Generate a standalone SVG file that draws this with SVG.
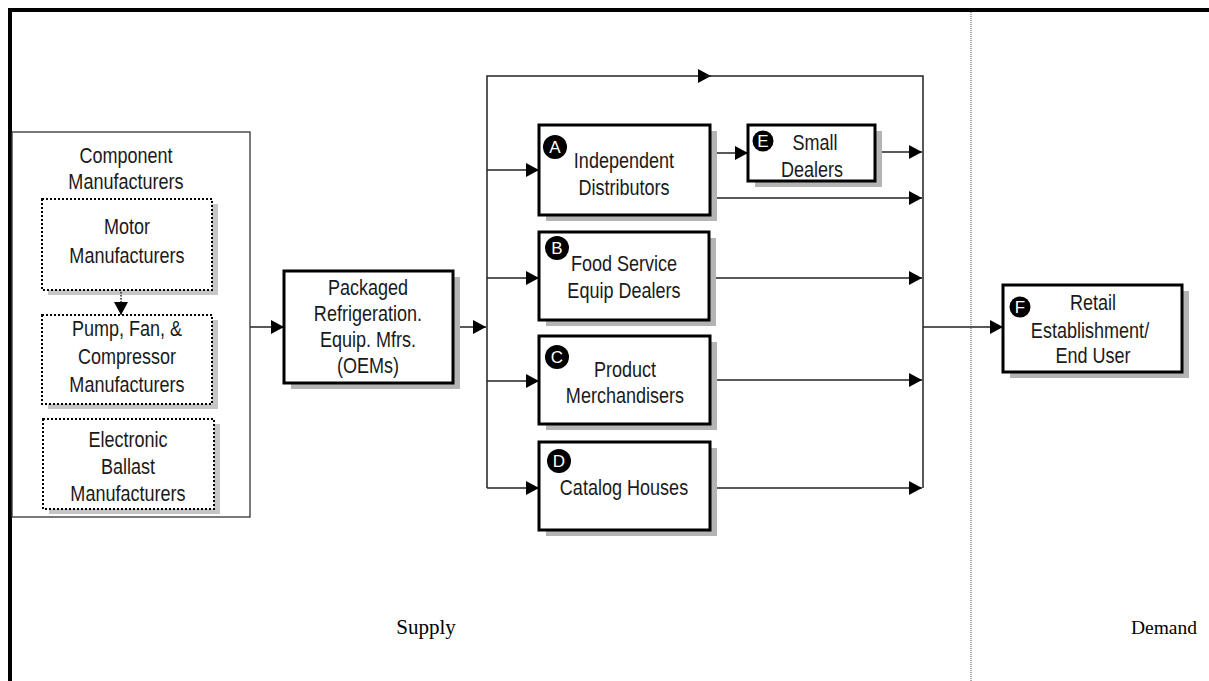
<svg xmlns="http://www.w3.org/2000/svg" width="1209" height="681" viewBox="0 0 1209 681">
  <style>
    .lbl{font-family:"Liberation Sans",Arial,sans-serif;font-size:22px;fill:#1a1a1a;text-anchor:middle}
    .box{fill:#fff;stroke:#000;stroke-width:3}
    .shadow{fill:#b4b4b4}
    .dbox{fill:#fff;stroke:#000;stroke-width:2;stroke-dasharray:2 2}
    .dshadow{fill:#c6c6c6}
    .conn{fill:none;stroke:#222;stroke-width:1.5}
    .dotconn{fill:none;stroke:#222;stroke-width:1.5;stroke-dasharray:1.5 1.5}
    .badge circle{fill:#000}
    .badge text{font-family:"Liberation Sans",Arial,sans-serif;font-size:17px;fill:#fff;text-anchor:middle}
    .zone{font-family:"Liberation Serif","Times New Roman",serif;font-size:21px;fill:#000;text-anchor:middle}
  </style>
  <defs>
    <marker id="ah" viewBox="0 0 13 14" refX="13" refY="7" markerWidth="13" markerHeight="14" markerUnits="userSpaceOnUse" orient="auto">
      <path d="M0,0L13,7L0,14z" fill="#000"/>
    </marker>
  </defs>

  <rect width="1209" height="681" fill="#fff"/>

  <!-- page frame and supply/demand divider -->
  <g id="frame">
    <path d="M10,681V10H1209" fill="none" stroke="#000" stroke-width="4"/>
    <line x1="971" y1="12" x2="971" y2="681" stroke="#555" stroke-width="1" stroke-dasharray="1 1"/>
    <text class="zone" x="426" y="634">Supply</text>
    <text class="zone" x="1164" y="634" style="font-size:19.5px">Demand</text>
  </g>

  <!-- connectors -->
  <g id="connectors">
    <path class="conn" d="M250,327H284" marker-end="url(#ah)"/>
    <path class="conn" d="M453,327H486" marker-end="url(#ah)"/>
    <path class="conn" d="M487,488V76H711" marker-end="url(#ah)"/>
    <path class="conn" d="M705,76H923V488"/>
    <path class="conn" d="M487,170H539" marker-end="url(#ah)"/>
    <path class="conn" d="M487,278H539" marker-end="url(#ah)"/>
    <path class="conn" d="M487,381H539" marker-end="url(#ah)"/>
    <path class="conn" d="M487,488H539" marker-end="url(#ah)"/>
    <path class="conn" d="M710,153H748" marker-end="url(#ah)"/>
    <path class="conn" d="M875,152H922" marker-end="url(#ah)"/>
    <path class="conn" d="M710,198H922" marker-end="url(#ah)"/>
    <path class="conn" d="M709,278H922" marker-end="url(#ah)"/>
    <path class="conn" d="M710,380H922" marker-end="url(#ah)"/>
    <path class="conn" d="M717,488H922" marker-end="url(#ah)"/>
    <path class="conn" d="M923,327H1003" marker-end="url(#ah)"/>
  </g>

  <!-- component makers group (labels drawn in a narrow face) -->
  <g id="component">
    <rect x="12" y="132" width="238" height="385" fill="#fff" stroke="#333" stroke-width="1.3"/>
    <text class="lbl" transform="translate(126,163) scale(0.82,1)">Component</text>
    <text class="lbl" transform="translate(126,189) scale(0.82,1)">Manufacturers</text>
  </g>
  <g id="motor">
    <rect class="dshadow" x="48" y="204" width="170" height="91"/>
    <rect class="dbox" x="42" y="199" width="170" height="91"/>
    <text class="lbl" transform="translate(127,234) scale(0.82,1)">Motor</text>
    <text class="lbl" transform="translate(127,263) scale(0.82,1)">Manufacturers</text>
  </g>
  <g id="pump">
    <rect class="dshadow" x="48" y="320" width="170" height="89"/>
    <rect class="dbox" x="42" y="315" width="170" height="89"/>
    <text class="lbl" transform="translate(127,336) scale(0.82,1)">Pump, Fan, &amp;</text>
    <text class="lbl" transform="translate(127,364) scale(0.82,1)">Compressor</text>
    <text class="lbl" transform="translate(127,392) scale(0.82,1)">Manufacturers</text>
  </g>
  <!-- dotted feed from motor makers into pump/fan/compressor makers -->
  <path class="dotconn" d="M121,292V315" marker-end="url(#ah)"/>
  <g id="ballast">
    <rect class="dshadow" x="49" y="424" width="171" height="90"/>
    <rect class="dbox" x="43" y="419" width="171" height="90"/>
    <text class="lbl" transform="translate(128,447) scale(0.82,1)">Electronic</text>
    <text class="lbl" transform="translate(128,474) scale(0.82,1)">Ballast</text>
    <text class="lbl" transform="translate(128,501) scale(0.82,1)">Manufacturers</text>
  </g>

  <g id="oem">
    <rect class="shadow" x="291" y="277" width="169" height="112"/>
    <rect class="box" x="284" y="271" width="169" height="112"/>
    <text class="lbl" transform="translate(368,295) scale(0.82,1)">Packaged</text>
    <text class="lbl" transform="translate(368,321) scale(0.82,1)">Refrigeration.</text>
    <text class="lbl" transform="translate(368,347) scale(0.82,1)">Equip. Mfrs.</text>
    <text class="lbl" transform="translate(368,373) scale(0.82,1)">(OEMs)</text>
  </g>

  <g id="distributors">
    <rect class="shadow" x="546" y="131" width="171" height="90"/>
    <rect class="box" x="539" y="125" width="171" height="90"/>
    <text class="lbl" transform="translate(624,168) scale(0.82,1)">Independent</text>
    <text class="lbl" transform="translate(624,195) scale(0.82,1)">Distributors</text>
    <g class="badge"><circle cx="555" cy="147" r="12"/><text x="555" y="153">A</text></g>
  </g>

  <g id="small-dealers">
    <rect class="shadow" x="755" y="131" width="127" height="56"/>
    <rect class="box" x="748" y="125" width="127" height="56"/>
    <text class="lbl" transform="translate(815,150) scale(0.82,1)">Small</text>
    <text class="lbl" transform="translate(812,177) scale(0.82,1)">Dealers</text>
    <g class="badge"><circle cx="763" cy="141" r="10.5"/><text x="763" y="147">E</text></g>
  </g>

  <g id="food-service">
    <rect class="shadow" x="546" y="238" width="170" height="88"/>
    <rect class="box" x="539" y="232" width="170" height="88"/>
    <text class="lbl" transform="translate(624,271) scale(0.82,1)">Food Service</text>
    <text class="lbl" transform="translate(624,298) scale(0.82,1)">Equip Dealers</text>
    <g class="badge"><circle cx="557" cy="248" r="12"/><text x="557" y="254">B</text></g>
  </g>

  <g id="merchandisers">
    <rect class="shadow" x="546" y="342" width="171" height="88"/>
    <rect class="box" x="539" y="336" width="171" height="88"/>
    <text class="lbl" transform="translate(625,377) scale(0.82,1)">Product</text>
    <text class="lbl" transform="translate(625,403) scale(0.82,1)">Merchandisers</text>
    <g class="badge"><circle cx="557" cy="357" r="12"/><text x="557" y="363">C</text></g>
  </g>

  <g id="catalog">
    <rect class="shadow" x="546" y="448" width="171" height="88"/>
    <rect class="box" x="539" y="442" width="171" height="88"/>
    <text class="lbl" transform="translate(624,495) scale(0.82,1)">Catalog Houses</text>
    <g class="badge"><circle cx="559" cy="461" r="12"/><text x="559" y="467">D</text></g>
  </g>

  <g id="retail">
    <rect class="shadow" x="1010" y="291" width="179" height="87"/>
    <rect class="box" x="1003" y="285" width="179" height="87"/>
    <text class="lbl" transform="translate(1093,310) scale(0.82,1)">Retail</text>
    <text class="lbl" transform="translate(1090,338) scale(0.82,1)">Establishment/</text>
    <text class="lbl" transform="translate(1093,363) scale(0.82,1)">End User</text>
    <g class="badge"><circle cx="1020" cy="307" r="10.5"/><text x="1020" y="313">F</text></g>
  </g>
</svg>
